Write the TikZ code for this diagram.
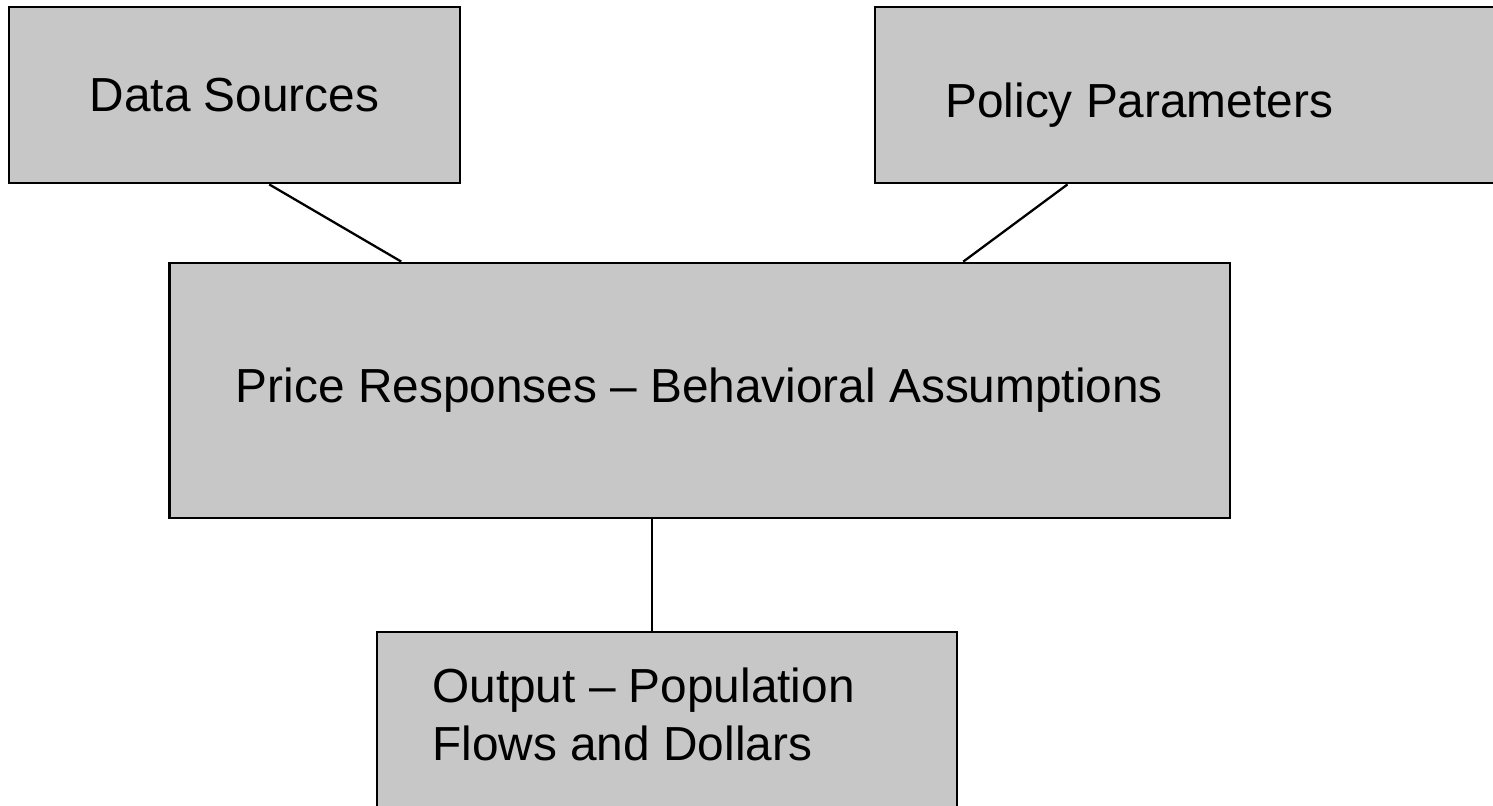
\documentclass[tikz,border=0pt]{standalone}
\usepackage{fontspec}
\setmainfont{Liberation Sans}
\usetikzlibrary{positioning,fit,calc}

\tikzset{
  box/.style={draw=black, line width=1.6pt, fill=black!22, inner sep=0pt,
    font={\fontsize{27.2}{33}\selectfont}},
  lbl/.style={inner sep=0pt, font={\fontsize{27.2}{33}\selectfont}, text=black},
  link/.style={draw=black, line width=1.3pt}
}

\begin{document}
\begin{tikzpicture}[x=0.02cm,y=-0.02cm]
\clip (0,0) rectangle (1493,805);
\fill[white] (0,0) rectangle (1493,805);

\node[box, minimum width=9.02cm, minimum height=3.52cm] (datasrc) at (234.5,95) {Data Sources};
\node[box, fit={(875,7) (1510,183)}] (policy) {};
\node[lbl, anchor=base west] (policytxt) at (945,117) {Policy Parameters};

\node[box, minimum width=21.22cm, minimum height=5.1cm] (price) at (699.5,390.5) {Price Responses -- Behavioral Assumptions};

\node[box, fit={(377,632) (957,830)}] (output) {};
\node[lbl, align=left, anchor=north west] (outputtxt) at (432,668) {Output -- Population\\Flows and Dollars};

% connectors
\draw[link] ($(datasrc.south west)!0.5765!(datasrc.south east)$) -- ($(price.north west)!0.2196!(price.north east)$);
\draw[link] ($(policy.south west)!0.304!(policy.south east)$) -- ($(price.north west)!0.748!(price.north east)$);
\draw[link] ($(output.north west)!0.474!(output.north east)$) coordinate (outtop) -- (outtop |- price.south);

\end{tikzpicture}
\end{document}
